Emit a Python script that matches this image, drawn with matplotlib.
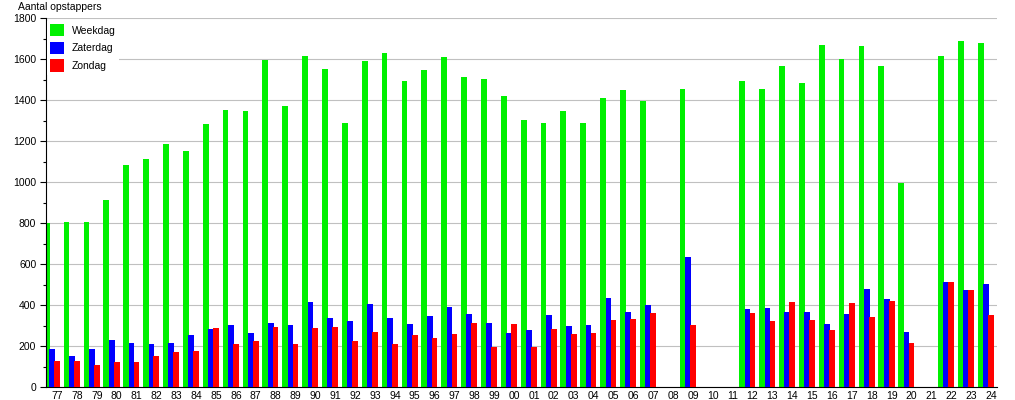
import numpy as np
import matplotlib
matplotlib.use("Agg")
import matplotlib.pyplot as plt
from matplotlib.ticker import MultipleLocator

years = ["77", "78", "79", "80", "81", "82", "83", "84", "85", "86", "87", "88",
         "89", "90", "91", "92", "93", "94", "95", "96", "97", "98", "99", "00",
         "01", "02", "03", "04", "05", "06", "07", "08", "09", "10", "11", "12",
         "13", "14", "15", "16", "17", "18", "19", "20", "21", "22", "23", "24"]

nan = np.nan
weekdag = [800, 804, 804, 914, 1082, 1111, 1184, 1150, 1281, 1350, 1345, 1597,
           1372, 1613, 1549, 1290, 1588, 1631, 1491, 1548, 1611, 1514, 1501, 1421,
           1301, 1286, 1345, 1286, 1408, 1447, 1393, nan, 1455, nan, nan, 1491,
           1455, 1567, 1481, 1666, 1601, 1661, 1567, 994, nan, 1617, 1686, 1679]
zaterdag = [185, 151, 185, 229, 214, 209, 214, 253, 283, 302, 263, 312,
            302, 414, 336, 321, 404, 336, 307, 346, 390, 356, 312, 263,
            278, 351, 297, 302, 434, 365, 400, nan, 633, nan, nan, 380,
            385, 365, 365, 307, 356, 477, 429, 268, nan, 512, 473, 502]
zondag = [127, 127, 107, 122, 122, 151, 170, 175, 287, 209, 224, 292,
          209, 287, 292, 224, 268, 209, 253, 239, 258, 312, 195, 307,
          195, 283, 258, 263, 326, 331, 360, nan, 302, nan, nan, 360,
          321, 414, 326, 278, 409, 341, 419, 214, nan, 512, 473, 351]

plt.rcParams['font.family'] = ['Liberation Sans', 'DejaVu Sans']
fs = 7.5

fig = plt.figure(figsize=(10.15, 4.0), dpi=100)
ax = fig.add_axes([46 / 1015, 1 - 387 / 400, (997 - 46) / 1015, (387 - 18) / 400])

x = np.arange(len(years))
w = 0.29
ax.bar(x - 0.52, weekdag, width=w, color="#00f000", label="Weekdag", zorder=2)
ax.bar(x - 0.25, zaterdag, width=w, color="#0000ff", label="Zaterdag", zorder=3)
ax.bar(x, zondag, width=w, color="#ff0000", label="Zondag", zorder=4)

ax.set_xlim(-0.554, 47.3)
ax.set_ylim(0, 1800)
ax.set_xticks(x)
ax.set_xticklabels(years, fontsize=fs)
ax.yaxis.set_major_locator(MultipleLocator(200))
ax.yaxis.set_minor_locator(MultipleLocator(100))
ax.tick_params(axis="y", which="major", length=4, width=0.8, pad=3, labelsize=fs)
ax.tick_params(axis="y", which="minor", length=2.5, width=0.8)
ax.tick_params(axis="x", length=0, pad=3)

ax.grid(axis="y", color="#c0c0c0", linewidth=0.8, zorder=0)
ax.set_axisbelow(True)
for s in ("top", "right"):
    ax.spines[s].set_visible(False)
for s in ("left", "bottom"):
    ax.spines[s].set_linewidth(0.8)

leg = ax.legend(loc="upper left", bbox_to_anchor=(0.0, 0.995), fontsize=fs,
                handlelength=1.3, handleheight=1.45, handletextpad=0.75,
                labelspacing=0.5, borderpad=0.3, borderaxespad=0.1,
                frameon=True, fancybox=False, framealpha=1.0,
                facecolor="white", edgecolor="none")
leg.set_zorder(5)

fig.text(18 / 1015, 1 - 7 / 400, "Aantal opstappers", fontsize=fs, va="center", ha="left")

fig.savefig("out.png", dpi=100)
